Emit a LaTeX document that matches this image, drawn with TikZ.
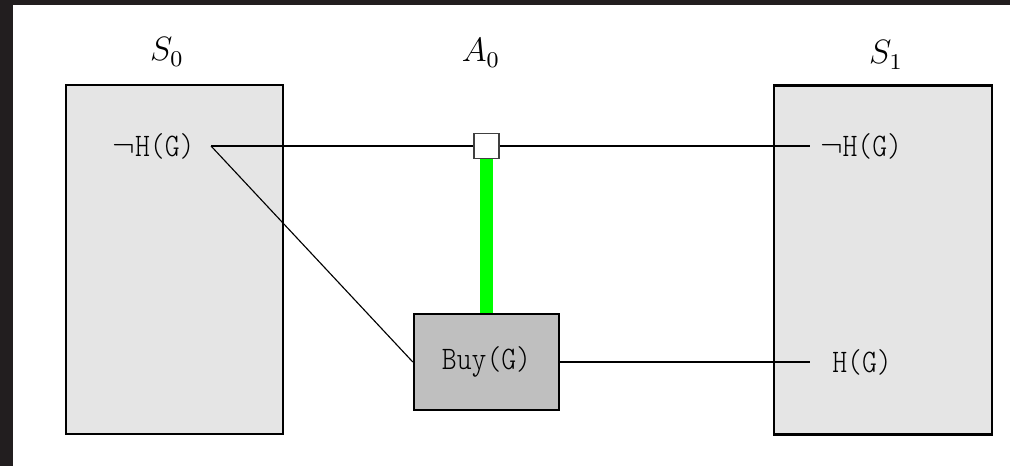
\documentclass[tikz,border=0pt]{standalone}
\usepackage{amsmath}
\usepackage{amssymb}
\usepackage{fontspec}
\usepackage{tikz}
\usepackage{xcolor}
\usetikzlibrary{positioning}

\newfontfamily\reftt[FakeStretch=0.86]{lmmonolt10-regular.otf}
\newcommand{\fluentfont}{\reftt\fontsize{11.7}{14}\selectfont}
\definecolor{frame}{HTML}{221E1F}
\definecolor{effect}{HTML}{00FF00}

\begin{document}
\begin{tikzpicture}[x=0.0125cm, y=-0.0125cm,
    state/.style={draw, thick, fill=gray!20, minimum width=77.3pt, minimum height=124pt, inner sep=0pt},
    fluent/.style={font=\fluentfont, inner sep=0pt},
    act/.style={draw, thick, fill=gray!50, minimum width=51.6pt, minimum height=34.1pt, inner sep=0pt, font=\fluentfont},
    link/.style={draw=black!75, fill=white, minimum size=8.9pt, inner sep=0pt}]
\useasboundingbox (0,0) rectangle (1010,466);

% Frame
\fill[frame] (0,0) rectangle (1010,5);
\fill[frame] (0,0) rectangle (13,466);

% States
\node[state] (s0) at (174.5,259.5) {};
\node[state] (s1) at (883,260) {};
\node[font=\large] (s0label) at (167,52) {$S_0$};
\node[font=\large] (a0label) at (481,53) {$A_0$};
\node[font=\large] (s1label) at (886,55) {$S_1$};

% Fluents
\node[fluent, minimum width=40.5pt] (nh0) at (153.5,146) {$\neg$H(G)};
\node[fluent, minimum width=35.6pt] (nh1) at (861,146) {$\neg$H(G)};
\node[fluent, minimum width=36.3pt] (h1) at (862,362) {H(G)};

% Action
\node[act] (buy) at (486.5,362) {Buy(G)};
\node[link] (noop) at (486.5,146) {};

% Connectors
\draw (nh0.east) -- (noop.west);
\draw (noop.east) -- (nh1.west);
\draw (nh0.east) -- (buy.west);
\draw (buy.east) -- (h1.west);
\draw[effect, line width=4.3pt] (noop.south) -- (buy.north);
\end{tikzpicture}
\end{document}
